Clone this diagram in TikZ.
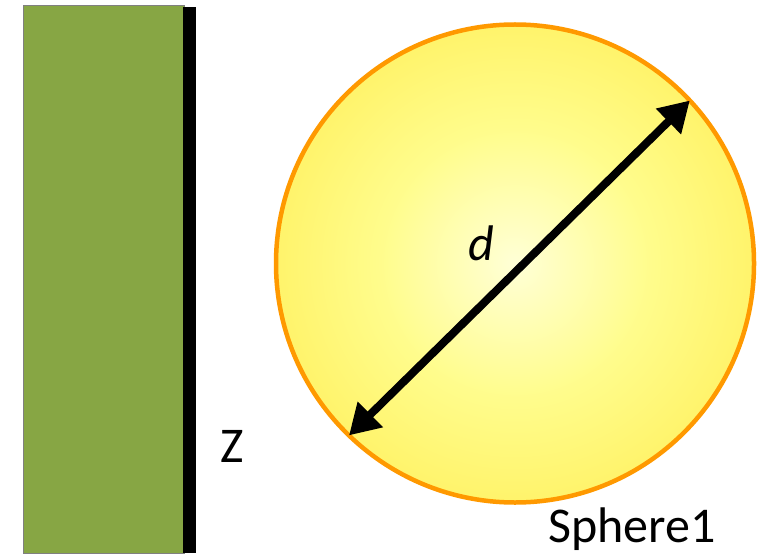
\documentclass[tikz,border=0pt]{standalone}
\usepackage{fontspec}
\setmainfont{Carlito}
\usetikzlibrary{arrows.meta}
\definecolor{plategreen}{RGB}{135,166,68}
\definecolor{rimorange}{RGB}{255,153,0}
\pgfdeclareradialshading{sun}{\pgfpoint{0bp}{0bp}}{rgb(0bp)=(1,1,0.84);rgb(14bp)=(1,0.99,0.55);rgb(30bp)=(1,0.94,0.36);rgb(50bp)=(1,0.8,0.24);rgb(100bp)=(1,0.8,0.24)}
\tikzset{lbl/.style={font=\fontsize{50}{50}\selectfont,inner sep=0pt}}
\begin{document}
\begin{tikzpicture}[x=1pt,y=-1pt]
          \useasboundingbox (0,0) rectangle (778,556);
          \node[draw=gray,line width=1pt,fill=plategreen,minimum width=161pt,minimum height=547pt,inner sep=0pt,outer sep=0pt] (plate) at (103.5,279.5) {};
          \fill (183,7) rectangle (196,553);
          \node[circle,shading=sun,draw=rimorange,line width=4.5pt,minimum size=478pt,inner sep=0pt,outer sep=0pt] (sphere) at (515,263.5) {};
          \draw[line width=8pt,{Triangle[length=30pt,width=34pt]}-{Triangle[length=30pt,width=34pt]}] (sphere.226) -- (sphere.43.5);
          \node[lbl] (dlabel) at (481,243) {\itshape d};
          \node[lbl] (zlabel) at (232,446) {Z};
          \node[lbl,anchor=base] (spherelabel) at (632,542) {Sphere1};
      \end{tikzpicture}
\end{document}
